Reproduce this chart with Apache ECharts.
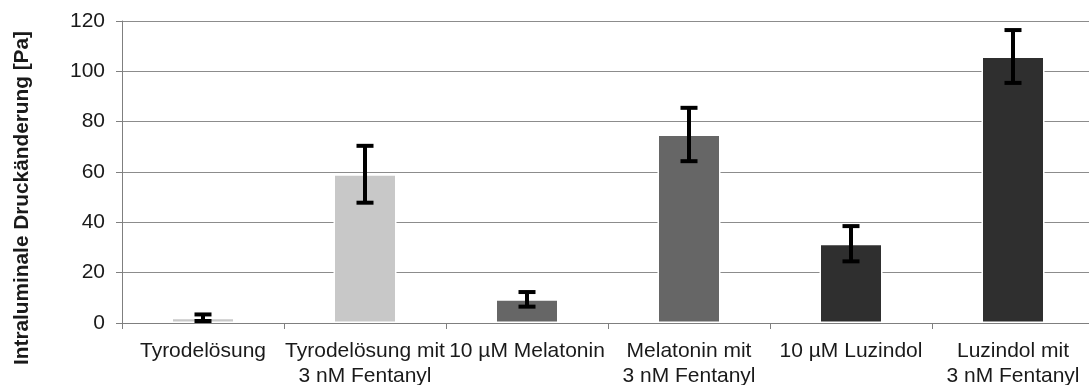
<!DOCTYPE html>
<html>
<head>
<meta charset="utf-8">
<script src="https://cdn.jsdelivr.net/npm/echarts@6/dist/echarts.min.js"></script>
<style>
html,body{margin:0;padding:0;background:#fff;}
#chart{width:1089px;height:385px;}
</style>
</head>
<body>
<div id="chart"></div>
<script>
const categories = [
  "Tyrodelösung",
  "Tyrodelösung mit\n3 nM Fentanyl",
  "10 µM Melatonin",
  "Melatonin mit\n3 nM Fentanyl",
  "10 µM Luzindol",
  "Luzindol mit\n3 nM Fentanyl"
];
const values = [2.1, 59.1, 9.4, 74.9, 31.5, 105.9];
const errors = [1.3, 11.3, 2.9, 10.6, 7.0, 10.5];
const barColors = ["#c8c8c8", "#c8c8c8", "#666666", "#666666", "#2f2f2f", "#2f2f2f"];
const yTicks = [0, 20, 40, 60, 80, 100, 120];
const yTitle = "Intraluminale Druckänderung [Pa]";

const FONT = "Liberation Sans, Arial, sans-serif";
const chart = echarts.init(document.getElementById('chart'), null, {renderer: 'canvas'});

const barData = values.map((v, i) => ({value: v, itemStyle: {color: barColors[i]}}));
const errData = values.map((v, i) => [i, v - errors[i], v + errors[i]]);

chart.setOption({
  animation: false,
  backgroundColor: '#ffffff',
  grid: {left: 122, top: 21, width: 972, height: 302, containLabel: false, outerBoundsMode: 'none'},
  xAxis: {
    type: 'category',
    data: categories,
    boundaryGap: true,
    axisLine: {show: true, lineStyle: {color: '#7f7f7f', width: 1}},
    axisTick: {show: true, length: 6, alignWithLabel: false, interval: 0, lineStyle: {color: '#7f7f7f'}},
    axisLabel: {interval: 0, margin: 16, color: '#1a1a1a', fontFamily: FONT, fontSize: 21, lineHeight: 25, align: 'center', hideOverlap: false},
    splitLine: {show: false}
  },
  yAxis: {
    type: 'value',
    min: yTicks[0],
    max: yTicks[yTicks.length - 1],
    interval: 20,
    axisLine: {show: true, lineStyle: {color: '#7f7f7f', width: 1}},
    axisTick: {show: true, length: 6, lineStyle: {color: '#7f7f7f'}},
    axisLabel: {margin: 17, color: '#1a1a1a', fontFamily: FONT, fontSize: 21, padding: [4, 0, 0, 0]},
    splitLine: {show: true, lineStyle: {color: '#8c8c8c', width: 1}}
  },
  graphic: [{
    type: 'text',
    x: 22,
    y: 198,
    rotation: Math.PI / 2,
    style: {
      text: yTitle,
      fill: '#1a1a1a',
      font: 'bold 20.8px ' + FONT,
      align: 'center',
      verticalAlign: 'middle'
    }
  }],
  series: [{
    type: 'bar',
    data: barData,
    barWidth: 63,
    itemStyle: {borderColor: '#ffffff', borderWidth: 1.5},
    z: 2
  }, {
    type: 'custom',
    data: errData,
    z: 5,
    renderItem: function (params, api) {
      const x = api.value(0);
      const lo = api.coord([x, api.value(1)]);
      const hi = api.coord([x, api.value(2)]);
      const cap = 8.5;
      const st = {stroke: '#000000', lineWidth: 4};
      return {
        type: 'group',
        children: [
          {type: 'line', shape: {x1: lo[0], y1: lo[1], x2: hi[0], y2: hi[1]}, style: st},
          {type: 'line', shape: {x1: hi[0] - cap, y1: hi[1], x2: hi[0] + cap, y2: hi[1]}, style: st},
          {type: 'line', shape: {x1: lo[0] - cap, y1: lo[1], x2: lo[0] + cap, y2: lo[1]}, style: st}
        ]
      };
    }
  }]
});
</script>
</body>
</html>
